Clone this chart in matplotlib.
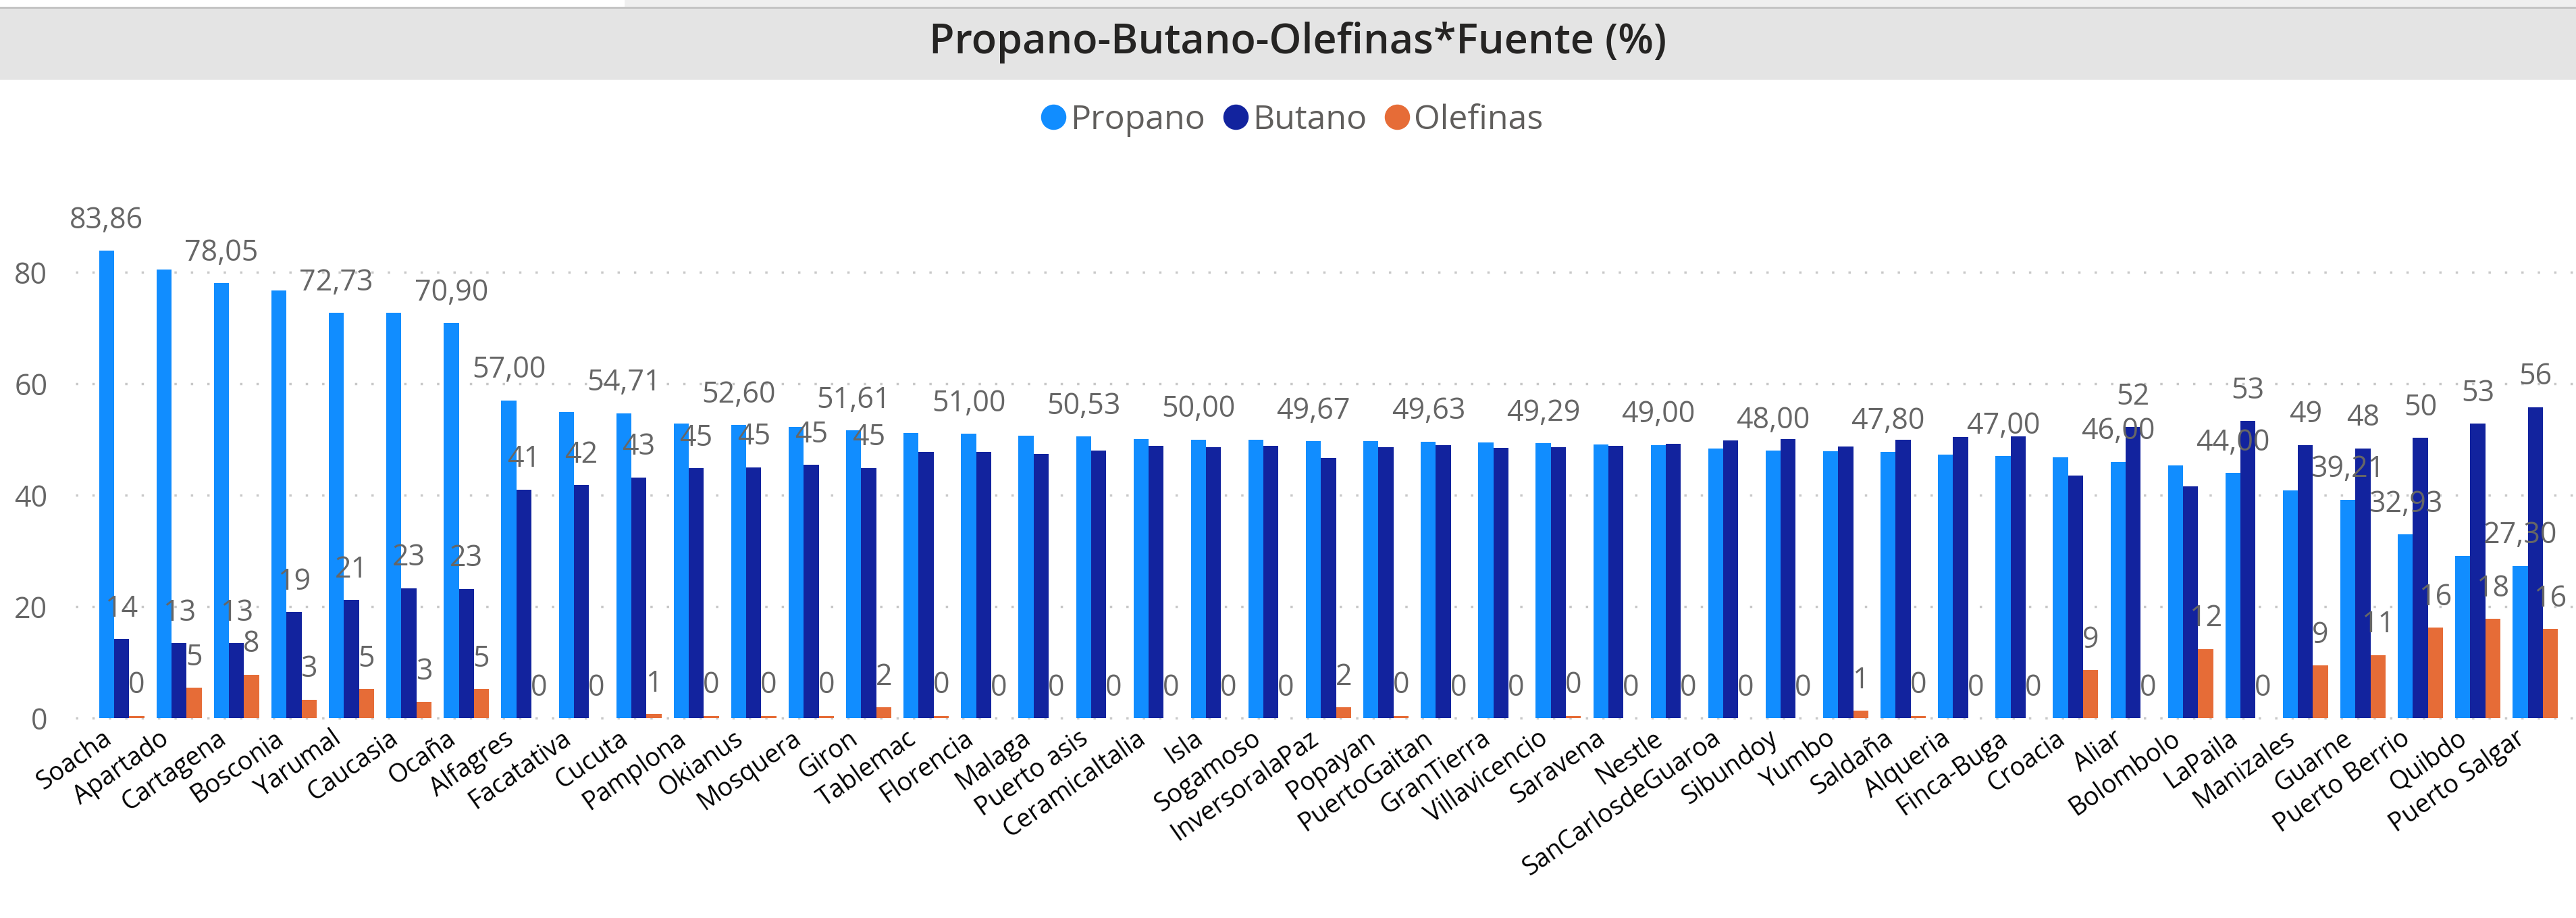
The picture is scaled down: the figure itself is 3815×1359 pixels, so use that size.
import numpy as np
import matplotlib.pyplot as plt
import matplotlib.transforms as mtransforms
from matplotlib.lines import Line2D
from matplotlib.patches import Rectangle

plt.rcParams['font.family'] = ['Open Sans', 'DejaVu Sans']

# datos (ordenados por propano)
fuentes = ['Soacha', 'Apartado', 'Cartagena', 'Bosconia', 'Yarumal', 'Caucasia', 'Ocaña',
           'Alfagres', 'Facatativa', 'Cucuta', 'Pamplona', 'Okianus', 'Mosquera', 'Giron',
           'Tablemac', 'Florencia', 'Malaga', 'Puerto asis', 'CeramicaItalia', 'Isla',
           'Sogamoso', 'InversoralaPaz', 'Popayan', 'PuertoGaitan', 'GranTierra',
           'Villavicencio', 'Saravena', 'Nestle', 'SanCarlosdeGuaroa', 'Sibundoy', 'Yumbo',
           'Saldaña', 'Alqueria', 'Finca-Buga', 'Croacia', 'Aliar', 'Bolombolo', 'LaPaila',
           'Manizales', 'Guarne', 'Puerto Berrio', 'Quibdo', 'Puerto Salgar']
propano = [83.86, 80.5, 78.05, 76.7, 72.73, 72.7, 70.90, 57.00, 54.9, 54.71, 52.9, 52.60,
           52.3, 51.61, 51.1, 51.00, 50.7, 50.53, 50.1, 50.00, 49.9, 49.67, 49.65, 49.63,
           49.45, 49.29, 49.1, 49.00, 48.4, 48.00, 47.9, 47.80, 47.3, 47.00, 46.8, 46.00,
           45.3, 44.00, 40.8, 39.21, 32.93, 29.1, 27.30]
butano = [14.2, 13.4, 13.4, 19.0, 21.2, 23.3, 23.2, 41.0, 41.8, 43.2, 44.8, 45.0, 45.4,
          44.9, 47.7, 47.7, 47.4, 48.0, 48.9, 48.6, 48.8, 46.7, 48.6, 49.0, 48.5, 48.6,
          48.9, 49.2, 49.8, 50.1, 48.7, 49.9, 50.4, 50.6, 43.5, 52.2, 41.6, 53.3, 49.0,
          48.4, 50.3, 52.8, 55.8]
olefinas = [0.4, 5.4, 7.8, 3.3, 5.2, 2.9, 5.2, 0, 0, 0.7, 0.4, 0.4, 0.4, 1.9, 0.4, 0, 0,
            0, 0, 0, 0, 1.9, 0.4, 0, 0, 0.4, 0, 0, 0, 0, 1.3, 0.4, 0, 0, 8.6, 0, 12.4, 0,
            9.4, 11.3, 16.2, 17.8, 16.0]

# etiquetas que Power BI deja visibles
propano_visible = [1, 0, 1, 0, 1, 0, 1, 1, 0, 1, 0, 1, 0, 1, 0, 1, 0, 1, 0, 1, 0, 1, 0, 1,
                   0, 1, 0, 1, 0, 1, 0, 1, 0, 1, 0, 1, 0, 1, 0, 1, 1, 0, 1]
butano_visible = [1] * 14 + [0] * 21 + [1, 0, 1, 1, 1, 1, 1, 1]

series = ['Propano', 'Butano', 'Olefinas']
colores = ['#118DFF', '#12239E', '#E66C37']
yticks = [0, 20, 40, 60, 80]

W, H = 3816, 1359
fig = plt.figure(figsize=(W / 100, H / 100), dpi=100)

# franja del titulo
fig.add_artist(Rectangle((925 / W, 1 - 10 / H), 1, 10 / H, transform=fig.transFigure,
                         facecolor='#efefef', edgecolor='none'))
fig.add_artist(Rectangle((0, 1 - 13 / H), 1, 3 / H, transform=fig.transFigure,
                         facecolor='#c4c4c4', edgecolor='none'))
fig.add_artist(Rectangle((0, 1 - 118 / H), 1, 105 / H, transform=fig.transFigure,
                         facecolor='#e4e4e4', edgecolor='none'))
fig.text(0.5037, 1 - 63 / H, 'Propano-Butano-Olefinas*Fuente (%)', ha='center',
         va='center', fontsize=44, fontweight='semibold', color='#252423')

ax = fig.add_axes([112 / W, (H - 1063) / H, 1 - 112 / W, 775.5 / H])

x = np.arange(len(fuentes))
w = 0.262
valores = [propano, butano, olefinas]
for k in range(3):
    ax.bar(x + (k - 1) * w, valores[k], w, color=colores[k], zorder=2)

# etiquetas de datos
for i in range(len(fuentes)):
    if propano_visible[i]:
        ax.annotate(f'{propano[i]:.2f}'.replace('.', ','), (x[i] - w, propano[i]),
                    xytext=(0, 24), textcoords='offset points', ha='center',
                    va='baseline', fontsize=31, color='#666666')
    if butano_visible[i]:
        ax.annotate(f'{round(butano[i])}', (x[i], butano[i]),
                    xytext=(0, 24), textcoords='offset points', ha='center',
                    va='baseline', fontsize=31, color='#666666')
    ax.annotate(f'{round(olefinas[i])}', (x[i] + w, olefinas[i]),
                xytext=(0, 24), textcoords='offset points', ha='center',
                va='baseline', fontsize=31, color='#666666')

ax.set_xlim(-0.8, 42.72)
ax.set_ylim(0, 94)
ax.set_yticks(yticks)
ax.set_xticks(x)
ax.set_xticklabels(fuentes, rotation=35, ha='right', rotation_mode='anchor')
ax.yaxis.grid(True, color='#c8c8c8', linewidth=2.5, linestyle=(0, (1, 6)))
for g in ax.get_ygridlines():
    g.set_clip_on(False)
ax.set_axisbelow(True)
for s in ax.spines.values():
    s.set_visible(False)
ax.tick_params(axis='y', length=0, pad=30, labelsize=31, labelcolor='#666666')
ax.tick_params(axis='x', length=0, pad=8, labelsize=27, labelcolor='black')

shift = mtransforms.ScaledTranslation(-0.30, 0, fig.dpi_scale_trans)
for lbl in ax.get_xticklabels():
    lbl.set_transform(lbl.get_transform() + shift)

# leyenda
handles = [Line2D([], [], marker='o', linestyle='none', markersize=26,
                  markerfacecolor=c, markeredgecolor=c) for c in colores]
fig.legend(handles, series, loc='center', bbox_to_anchor=(0.5013, 1 - 178 / H), ncol=3,
           frameon=False, fontsize=36, handletextpad=0.1, columnspacing=0.5,
           handlelength=0.8, labelcolor='#605E5C')

fig.savefig('out.png', dpi=100)
